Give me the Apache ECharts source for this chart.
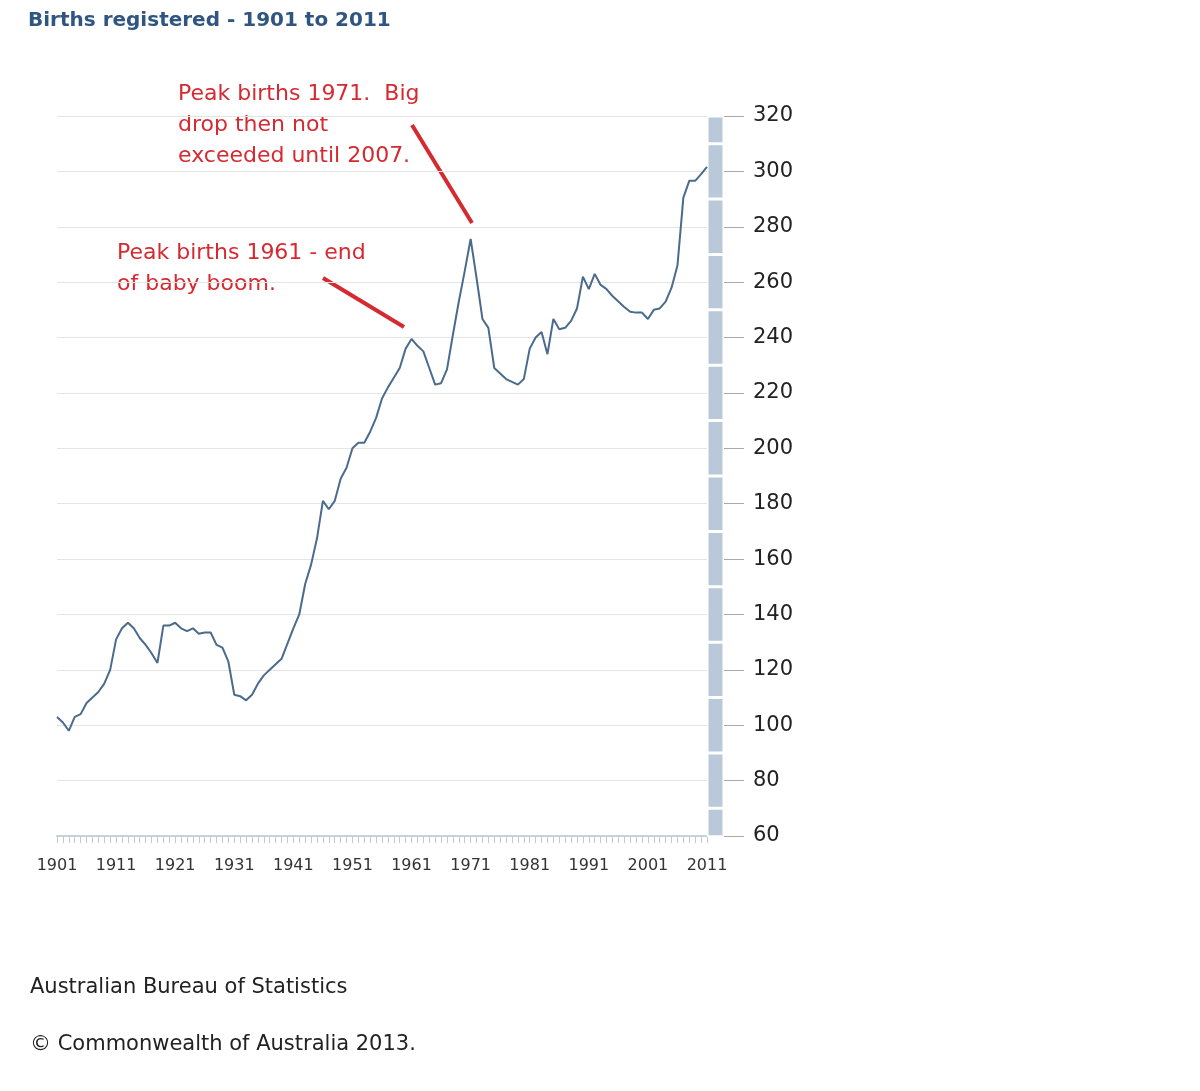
<!DOCTYPE html>
<html>
<head>
<meta charset="utf-8">
<script src="https://cdn.jsdelivr.net/npm/echarts@6/dist/echarts.min.js"></script>
<style>
html, body { margin: 0; padding: 0; background: #fff; }
#main { width: 1200px; height: 1091px; }
</style>
</head>
<body>
<div id="main"></div>
<script>
// 数据: 出生登记数 (千), 1901-2011
var firstYear = 1901;
var births = [
    103, 101, 98, 103, 104, 108, 110, 112, 115, 120,
    131, 135, 137, 135, 131.5, 129, 126, 122.5, 136, 136,
    137, 135, 134, 135, 133, 133.5, 133.5, 129, 128, 123,
    111, 110.5, 109, 111, 115, 118, 120, 122, 124, 129.5,
    135, 140, 151, 158, 167.5, 181, 178, 181, 189, 193,
    200, 202, 202, 206, 211, 218, 222, 225.5, 229, 236,
    239.5, 237, 235, 229, 223, 223.5, 228.5, 241, 253, 264,
    275.6, 261.5, 246.7, 243.5, 229, 227, 225, 224, 223, 225,
    236, 240, 242, 234, 246.7, 243, 243.5, 246, 250.5, 262,
    257.5, 263, 259, 257.5, 255, 253, 251, 249.3, 249, 249,
    246.7, 250, 250.5, 253, 258, 266, 290.5, 296.6, 296.6, 299,
    301.6
];
var years = births.map(function (v, i) { return String(firstYear + i); });
// 右侧灰色条的分段 (从 60 到 320)
var bandSegments = [70, 20, 20, 20, 20, 20, 20, 20, 20, 20, 20, 20, 20, 10];
var yTicks = { min: 60, max: 320, step: 20 };

var myChart = echarts.init(document.getElementById('main'));

var red = '#d42a30';
var bandSeries = bandSegments.map(function (v, i) {
    return {
        type: 'bar', xAxisIndex: 1, yAxisIndex: 1, stack: 'band',
        data: [v], barWidth: '100%', silent: true,
        itemStyle: { color: '#b9c9d9', borderColor: '#ffffff', borderWidth: 1.5 }
    };
});

var option = {
    animation: false,
    textStyle: { fontFamily: 'DejaVu Sans' },
    grid: [
        { left: 57, top: 116, width: 650, height: 720 },
        { left: 707, top: 116, width: 17, height: 720 }
    ],
    xAxis: [{
        type: 'category', data: years, boundaryGap: false, gridIndex: 0,
        axisLine: { lineStyle: { color: '#c8d2dc', width: 2 } },
        axisTick: { interval: 0, length: 7, lineStyle: { color: '#c0c8d0' } },
        axisLabel: { interval: 9, color: '#333', fontSize: 16, margin: 22 }
    }, {
        type: 'category', data: [''], gridIndex: 1,
        axisLine: { show: false }, axisTick: { show: false }, axisLabel: { show: false }
    }],
    yAxis: [{
        type: 'value', gridIndex: 0, min: yTicks.min, max: yTicks.max, interval: yTicks.step,
        axisLine: { show: false }, axisTick: { show: false }, axisLabel: { show: false },
        splitLine: { lineStyle: { color: '#e4e4e4' } }
    }, {
        type: 'value', gridIndex: 1, position: 'right',
        min: yTicks.min, max: yTicks.max, interval: yTicks.step,
        axisLine: { show: false },
        axisTick: { show: true, length: 20, inside: false, lineStyle: { color: '#aaa' } },
        axisLabel: { color: '#222', fontSize: 21, margin: 29 },
        splitLine: { show: false }
    }],
    series: [{
        type: 'line', data: births, xAxisIndex: 0, yAxisIndex: 0,
        showSymbol: false, smooth: false,
        lineStyle: { color: '#4b6b8c', width: 2 }
    }].concat(bandSeries),
    graphic: [
        { type: 'text', left: 28, top: 11, style: { text: 'Births registered - 1901 to 2011', fill: '#2f5580', font: 'bold 20px DejaVu Sans' } },
        { type: 'text', left: 178, top: 79, style: { text: 'Peak births 1971.  Big\ndrop then not\nexceeded until 2007.', fill: red, font: '22px DejaVu Sans', lineHeight: 31 } },
        { type: 'text', left: 117, top: 238, style: { text: 'Peak births 1961 - end\nof baby boom.', fill: red, font: '22px DejaVu Sans', lineHeight: 31 } },
        { type: 'line', shape: { x1: 412, y1: 125, x2: 472, y2: 223 }, style: { stroke: red, lineWidth: 4 } },
        { type: 'line', shape: { x1: 323, y1: 278, x2: 404, y2: 327 }, style: { stroke: red, lineWidth: 4 } },
        { type: 'text', left: 30, top: 977, style: { text: 'Australian Bureau of Statistics', fill: '#222', font: '21px DejaVu Sans' } },
        { type: 'text', left: 30, top: 1034, style: { text: '© Commonwealth of Australia 2013.', fill: '#222', font: '21px DejaVu Sans' } }
    ]
};
myChart.setOption(option);
</script>
</body>
</html>
